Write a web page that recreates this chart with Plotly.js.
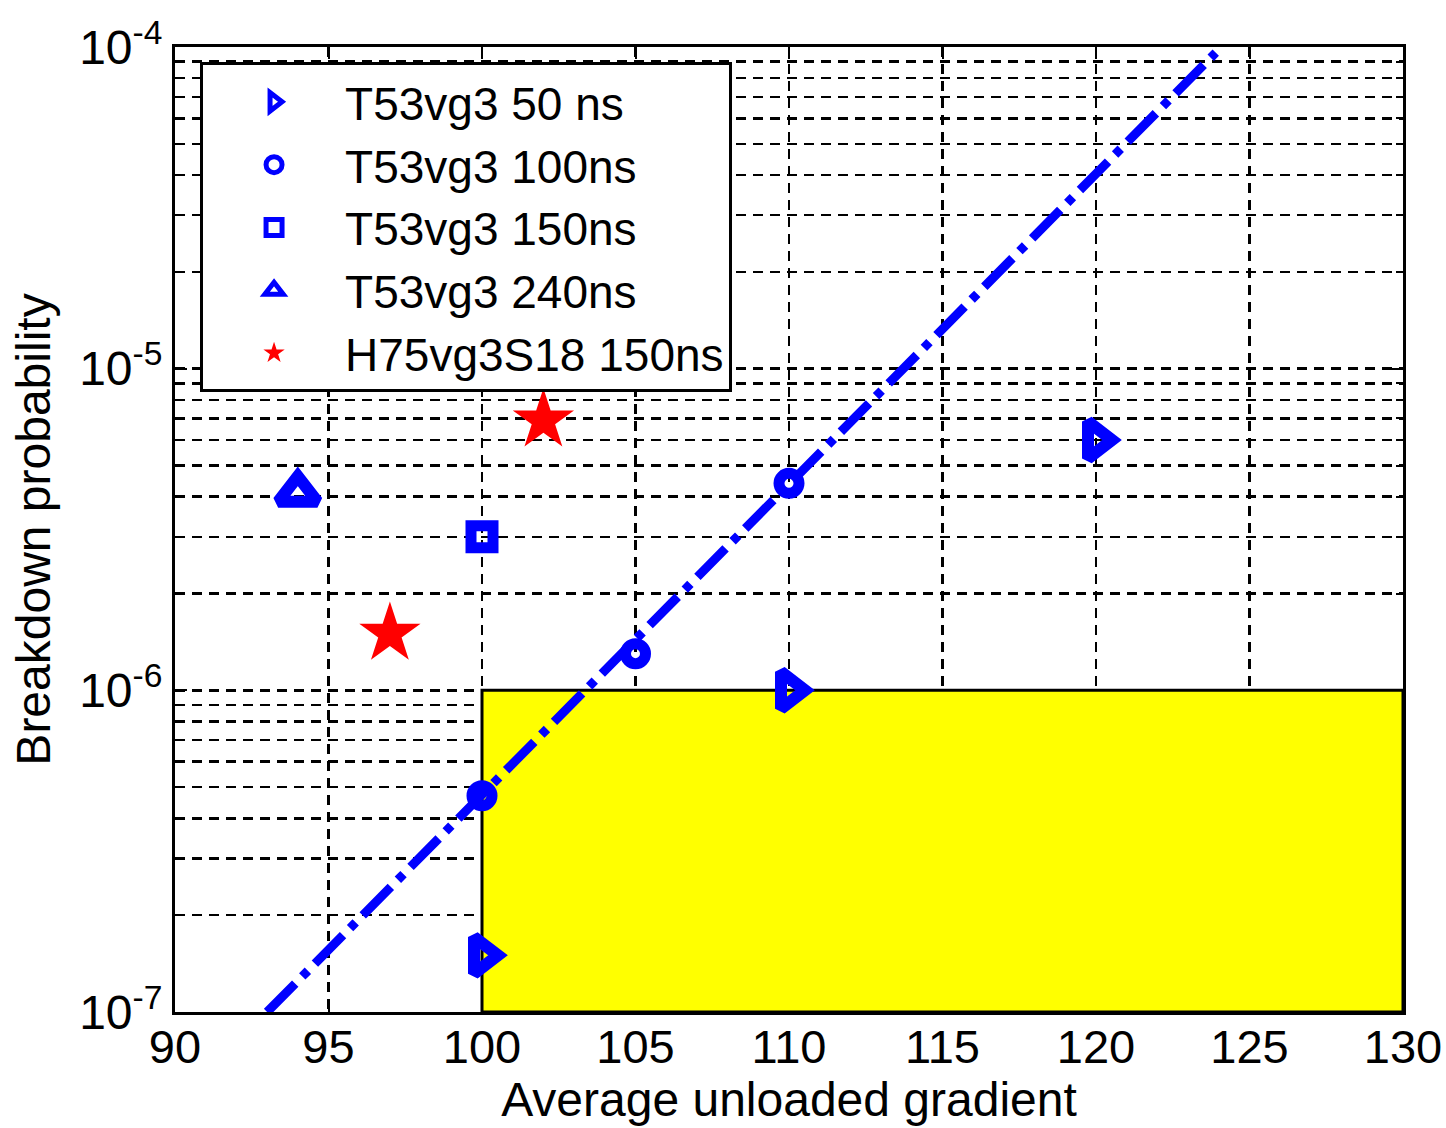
<!DOCTYPE html>
<html>
<head>
<meta charset="utf-8">
<script src="https://cdn.plot.ly/plotly-3.0.1.min.js"></script>
<style>
  html, body { margin: 0; padding: 0; background: #ffffff; }
  #chart { width: 1446px; height: 1128px; }
</style>
</head>
<body>
<div id="chart"></div>
<script>
// Breakdown probability versus average unloaded gradient (MV/m)

// T53vg3, 50 ns pulses
const t50Gradient = [100, 110, 120];
const t50Prob = [1.5e-7, 1.0e-6, 6.0e-6];

// T53vg3, 100 ns pulses
const t100Gradient = [100, 105, 110];
const t100Prob = [4.7e-7, 1.3e-6, 4.4e-6];

// T53vg3, 150 ns pulses
const t150Gradient = [100];
const t150Prob = [3.0e-6];

// T53vg3, 240 ns pulses
const t240Gradient = [94];
const t240Prob = [4.1e-6];

// H75vg3S18, 150 ns pulses
const hGradient = [97, 102];
const hProb = [1.5e-6, 6.9e-6];

// Exponential fit through the 100 ns data
const fitGradient = [93.0, 123.9];
const fitProb = [1.0e-7, 9.6e-5];

// Target region: gradient of at least 100 with probability no higher than 1e-6
const targetGradient = 100;
const targetProb = 1e-6;

const xRange = [90, 130];
const yDecades = [-7, -4];

const seriesNames = ['T53vg3 50 ns', 'T53vg3 100ns', 'T53vg3 150ns', 'T53vg3 240ns', 'H75vg3S18 150ns'];

const blue = '#0000ff';
const red = '#ff0000';
const font = 'Liberation Sans, Arial, Helvetica, sans-serif';

// Decade tick labels and minor (2..9) ticks for the log axis
const majorVals = [];
const majorText = [];
const minorVals = [];
for (let e = yDecades[0]; e <= yDecades[1]; e++) {
  majorVals.push(Math.pow(10, e));
  majorText.push('10<sup>' + e + '</sup>');
  if (e < yDecades[1]) {
    for (let m = 2; m <= 9; m++) minorVals.push(m * Math.pow(10, e));
  }
}

const yLow = Math.pow(10, yDecades[0]);
const target = {
  x: [targetGradient, xRange[1], xRange[1], targetGradient, targetGradient],
  y: [yLow, yLow, targetProb, targetProb, yLow],
  type: 'scatter', mode: 'lines', fill: 'toself',
  fillcolor: '#ffff00',
  line: { color: '#000000', width: 3 },
  showlegend: false, hoverinfo: 'skip'
};

const fit = {
  x: fitGradient, y: fitProb,
  type: 'scatter', mode: 'lines',
  line: { color: blue, width: 9, dash: '40px,10px,8px,10px' },
  showlegend: false, hoverinfo: 'skip'
};

function markers(x, y, name, symbol, color, size, lw) {
  return {
    x: x, y: y, name: name,
    type: 'scatter', mode: 'markers',
    marker: { symbol: symbol, size: size, color: color, line: { color: color, width: lw } }
  };
}

const traces = [
  target,
  fit,
  markers(t50Gradient, t50Prob, seriesNames[0], 'triangle-right-open', blue, 32, 12),
  markers(t100Gradient, t100Prob, seriesNames[1], 'circle-open', blue, 20, 11),
  markers(t150Gradient, t150Prob, seriesNames[2], 'square-open', blue, 22, 11),
  markers(t240Gradient, t240Prob, seriesNames[3], 'triangle-up-open', blue, 34, 12),
  markers(hGradient, hProb, seriesNames[4], 'star', red, 46, 0)
];

const gridStyle = { gridcolor: '#000000', griddash: '10px,7px', gridwidth: 2.5 };

const layout = {
  width: 1446, height: 1128,
  margin: { l: 175, r: 43, t: 47, b: 116 },
  paper_bgcolor: '#ffffff', plot_bgcolor: '#ffffff',
  font: { family: font, size: 46, color: '#000000' },
  showlegend: true,
  legend: {
    x: 0.0204, y: 0.984, xanchor: 'left', yanchor: 'top',
    bgcolor: '#ffffff', bordercolor: '#000000', borderwidth: 3,
    font: { family: font, size: 46, color: '#000000' },
    itemwidth: 132
  },
  xaxis: Object.assign({
    range: xRange, tickvals: [90, 95, 100, 105, 110, 115, 120, 125, 130],
    showgrid: true, zeroline: false,
    showline: true, linecolor: '#000000', linewidth: 3, mirror: 'ticks',
    ticks: 'inside', ticklen: 12, tickwidth: 2, tickcolor: '#000000',
    tickfont: { family: font, size: 47 },
    ticklabelstandoff: -8,
    layer: 'below traces',
    title: { text: 'Average unloaded gradient', font: { family: font, size: 48 }, standoff: 10 }
  }, gridStyle),
  yaxis: Object.assign({
    type: 'log', range: yDecades,
    tickmode: 'array', tickvals: majorVals, ticktext: majorText,
    showgrid: true, zeroline: false,
    showline: true, linecolor: '#000000', linewidth: 3, mirror: 'ticks',
    ticks: 'inside', ticklen: 12, tickwidth: 2, tickcolor: '#000000',
    tickfont: { family: font, size: 48 },
    layer: 'below traces',
    minor: Object.assign({
      tickmode: 'array', tickvals: minorVals,
      ticks: 'inside', ticklen: 7, tickwidth: 2, tickcolor: '#000000',
      showgrid: true
    }, gridStyle),
    title: { text: 'Breakdown probability', font: { family: font, size: 48 }, standoff: 14 }
  }, gridStyle)
};

Plotly.newPlot('chart', traces, layout, { displayModeBar: false, staticPlot: true });
</script>
</body>
</html>
